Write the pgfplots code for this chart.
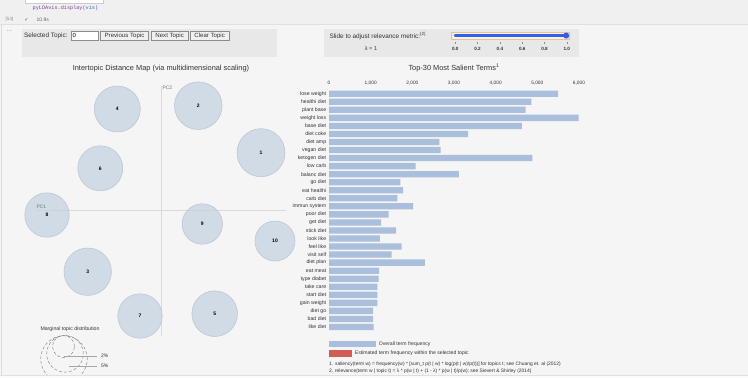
\documentclass[border=0pt]{standalone}
\usepackage{pgfplots}
\pgfplotsset{compat=1.18}
\usepackage{pgfplotstable}
\usepackage{fontspec}
\setmainfont{Liberation Sans}
\setmonofont{Liberation Mono}
\newfontfamily\dejavu{DejaVu Sans}
\definecolor{bg}{RGB}{245,245,245}
\definecolor{topbg}{RGB}{240,240,240}
\definecolor{panel}{RGB}{232,232,232}
\definecolor{barblue}{RGB}{170,191,220}
\definecolor{barred}{RGB}{208,94,84}
\definecolor{circfill}{RGB}{194,208,224}
\definecolor{circedge}{RGB}{190,199,211}
\definecolor{txt}{RGB}{51,51,51}
\definecolor{axgray}{RGB}{218,218,218}
\definecolor{slider}{RGB}{52,92,240}
\definecolor{sliderbox}{RGB}{236,196,120}
\definecolor{codepurple}{RGB}{125,60,160}
\definecolor{codeblue}{RGB}{40,100,200}
\newcommand{\fs}[1]{\fontsize{#1}{#1}\selectfont}

\pgfplotstableread[col sep=comma]{
idx,val,term
0,5500,lose weight
1,4860,healthi diet
2,4720,plant base
3,5990,weight loss
4,4630,base diet
5,3340,diet coke
6,2650,diet amp
7,2680,vegan diet
8,4880,ketogen diet
9,2080,low carb
10,3120,balanc diet
11,1710,go diet
12,1780,eat healthi
13,1640,carb diet
14,2020,immun system
15,1430,poor diet
16,1250,get diet
17,1610,stick diet
18,1220,look like
19,1740,feel like
20,1500,visit self
21,2300,diet plan
22,1200,eat meat
23,1190,type diabet
24,1160,take care
25,1160,start diet
26,1160,gain weight
27,1060,diet go
28,1060,bad diet
29,1070,like diet
}\terms

\pgfplotstableread{
x y r t
0.2000 0.1160 24.0 1
0.0746 0.2100 23.8 2
-0.1466 -0.1220 23.7 3
-0.0874 0.2034 23.0 4
0.1074 -0.2060 22.8 5
-0.1214 0.0848 22.5 6
-0.0420 -0.2106 22.2 7
-0.2280 -0.0086 22.2 8
0.0826 -0.0266 20.2 9
0.2280 -0.0606 20.0 10
}\topics

\pgfplotsset{topic/.style={only marks, mark=*, mark size=#1pt,
  mark options={draw=circedge, fill=circfill, fill opacity=0.7, draw opacity=1, line width=0.6pt}}}

\begin{document}
\begin{tikzpicture}[x=1pt,y=1pt]
% backgrounds
\fill[bg] (0,0) rectangle (748,-378);
\fill[topbg] (0,0) rectangle (748,-24.5);
\draw[black!12, line width=0.6pt] (0,-24.5) -- (748,-24.5);
\draw[black!14, line width=0.8pt] (1.2,-24.5) -- (1.2,-375);
\fill[white!60!bg] (0,-375) rectangle (748,-378);
\draw[black!12, line width=0.6pt] (0,-375) -- (748,-375);
% code cell
\filldraw[fill=white, draw=black!20, line width=0.5pt] (25,4) rectangle (103,-3);
\node[anchor=west, inner sep=0] at (32.5,-8.5) {\ttfamily\fs{5.2}\textcolor{codepurple}{pyLDAvis.display(}\textcolor{codeblue}{vis}\textcolor{codepurple}{)}};
\node[inner sep=0] at (9.5,-19.5) {\fs{4.5}\color{black!45}[53]};
\node[inner sep=0] at (26.5,-19.5) {\dejavu\fs{5}\color{green!55!black}✓};
\node[anchor=west, inner sep=0] at (36.5,-19.5) {\fs{5}\color{black!60}10.9s};
\node[inner sep=0] at (9.5,-31) {\fs{6}\color{black!50}...};
% panel 1
\fill[panel] (21.7,-29) rectangle (276.7,-56.7);
\node[anchor=west, inner sep=0] at (24,-35.8) {\fs{6.4}\color{txt}Selected Topic:};
\filldraw[fill=white, draw=black!45, line width=0.5pt] (71,-31.3) rectangle (98,-40.3);
\node[anchor=west, inner sep=0] at (72.5,-35.8) {\fs{6}0};
\foreach \a/\b/\l in {100.7/148.3/Previous Topic, 151.3/188/Next Topic, 190.3/229/Clear Topic}{
  \filldraw[fill=black!6, draw=black!45, line width=0.5pt] (\a,-31.3) rectangle (\b,-40.3);
  \node[inner sep=0] at ({(\a+\b)/2},-35.8) {\fs{6.1}\color{txt}\l};
}
% panel 2
\fill[panel] (324,-29) rectangle (579.3,-56.7);
\node[anchor=west, inner sep=0] at (329.3,-35.8) {\fs{6.4}\color{txt}Slide to adjust relevance metric:\textsuperscript{(2)}};
\node[inner sep=0] at (371,-48.3) {\fs{5.6}\color{txt}λ = 1};
\filldraw[fill=panel!60!white, draw=sliderbox, line width=0.7pt] (451.7,-32) rectangle (569.6,-39.2);
\draw[slider, line width=2.4pt, line cap=round] (455,-35.6) -- (566,-35.6);
\fill[slider] (566.2,-35.6) circle (3pt);
\foreach \v/\p in {0.0/455.3, 0.2/477.6, 0.4/499.9, 0.6/522.2, 0.8/544.5, 1.0/566.8}{
  \draw[black!45, line width=0.4pt] (\p,-41.5) -- (\p,-44.3);
  \node[inner sep=0] at (\p,-48.5) {\bfseries\fs{4.6}\color{txt}\v};
}
% titles
\node[inner sep=0] at (161,-69) {\fs{7.4}\color{txt}Intertopic Distance Map (via multidimensional scaling)};
\node[inner sep=0] at (454,-68.3) {\fs{7.4}\color{txt}Top-30 Most Salient Terms\textsuperscript{1}};

% ---------- scatter (intertopic map)
\begin{axis}[at={(36pt,-335.7pt)}, anchor=south west, scale only axis,
  width=250pt, height=250pt, xmin=-0.25, xmax=0.25, ymin=-0.25, ymax=0.25,
  axis lines=none, clip=false]
\draw[axgray, line width=0.7pt] (axis cs:-0.25,0) -- (axis cs:0.25,0);
\draw[axgray, line width=0.7pt] (axis cs:0,-0.25) -- (axis cs:0,0.25);
\addplot[topic=24.0] coordinates {(0.2000,0.1160)};
\addplot[topic=23.8] coordinates {(0.0746,0.2100)};
\addplot[topic=23.7] coordinates {(-0.1466,-0.1220)};
\addplot[topic=23.0] coordinates {(-0.0874,0.2034)};
\addplot[topic=22.8] coordinates {(0.1074,-0.2060)};
\addplot[topic=22.5] coordinates {(-0.1214,0.0848)};
\addplot[topic=22.2] coordinates {(-0.0420,-0.2106)};
\addplot[topic=22.2] coordinates {(-0.2280,-0.0086)};
\addplot[topic=20.2] coordinates {(0.0826,-0.0266)};
\addplot[topic=20.0] coordinates {(0.2280,-0.0606)};
\addplot[draw=none, mark=none, nodes near coords, point meta=explicit symbolic,
  nodes near coords align={center},
  every node near coord/.append style={font=\bfseries\fs{5}, inner sep=0pt, text=black}]
  table[x=x, y=y, meta=t] {\topics};
\end{axis}
\node[anchor=south west, inner sep=0] at (36.3,-208.6) {\fs{5}\color{black!55}PC1};
\node[anchor=north west, inner sep=0] at (162.3,-85.4) {\fs{5}\color{black!55}PC2};

% marginal topic distribution legend
\node[anchor=west, inner sep=0] at (40.3,-329.3) {\fs{5.2}\color{txt}Marginal topic distribution};
\begin{scope}
\clip (0,-333) rectangle (120,-374.5);
\draw[black!50, densely dashed, line width=0.45pt] (63.5,-346.5) circle (11);
\draw[black!50, densely dashed, line width=0.45pt] (65,-353.8) circle (18.3);
\draw[black!50, densely dashed, line width=0.45pt] (64,-359) circle (23.3);
\end{scope}
\draw[black!35, line width=0.4pt] (64,-355.7) -- (97,-355.7);
\draw[black!35, line width=0.4pt] (69,-365.7) -- (97,-365.7);
\node[anchor=west, inner sep=0] at (101,-355.7) {\fs{5}\color{txt}2\%};
\node[anchor=west, inner sep=0] at (101,-365.7) {\fs{5}\color{txt}5\%};

% ---------- bar chart (salient terms)
\begin{axis}[at={(329pt,-89.7pt)}, anchor=north west, scale only axis,
  width=250pt, height=241.3pt,
  xmin=0, xmax=6000, ymin=-0.5, ymax=29.5, y dir=reverse,
  axis line style={draw=none}, major tick length=0pt,
  xtick={0,1000,...,6000}, xticklabel pos=upper,
  scaled x ticks=false,
  /pgf/number format/.cd, 1000 sep={,}, assume math mode=true, /pgfplots/.cd,
  ytick={0,...,29}, yticklabels from table={\terms}{term},
  xticklabel style={font=\fs{4.8}, text=txt, inner sep=0pt, anchor=south, yshift=4.8pt},
  yticklabel style={font=\fs{5.2}, text=txt, inner sep=0pt, anchor=east, xshift=-2.6pt},
  clip=false]
\addplot[xbar, bar width=6.3pt, bar shift=0pt, fill=barblue, draw=none]
  table[x=val, y=idx] {\terms};
\end{axis}

% legend of bars
\fill[barblue] (329,-341.3) rectangle (375.7,-347.3);
\node[anchor=west, inner sep=0] at (378.7,-344.3) {\fs{5.1}\color{txt}Overall term frequency};
\fill[barred] (329,-350.3) rectangle (352,-356.7);
\node[anchor=west, inner sep=0] at (354.7,-353.5) {\fs{5.1}\color{txt}Estimated term frequency within the selected topic};
\node[anchor=west, inner sep=0] at (329,-364) {\fs{4.9}\color{txt}1. saliency(term w) = frequency(w) * [sum\_t p(t | w) * log(p(t | w)/p(t))] for topics t; see Chuang et. al (2012)};
\node[anchor=west, inner sep=0] at (329,-371) {\fs{4.9}\color{txt}2. relevance(term w | topic t) = λ * p(w | t) + (1 - λ) * p(w | t)/p(w); see Sievert \& Shirley (2014)};

\pgfresetboundingbox
\path[use as bounding box] (0,0) rectangle (748,-378);
\end{tikzpicture}
\end{document}
